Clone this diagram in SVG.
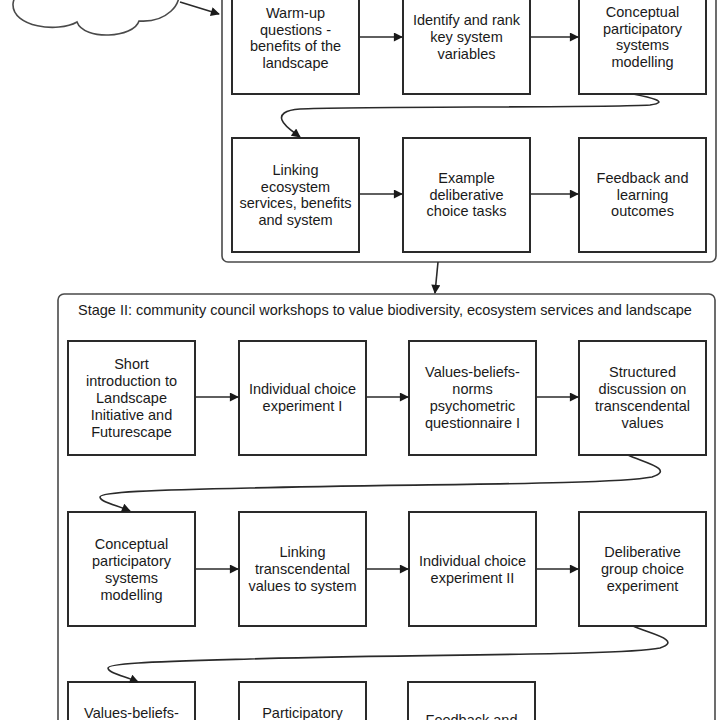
<svg xmlns="http://www.w3.org/2000/svg" width="720" height="720" viewBox="0 0 720 720">
<defs>
<marker id="ah" viewBox="0 0 10 10" refX="9" refY="5" markerWidth="11" markerHeight="9" markerUnits="userSpaceOnUse" orient="auto">
<path d="M0,0 L10,5 L0,10 z" fill="#1a1a1a"/>
</marker>
</defs>
<style>
.bg{fill:#ffffff}
.cont{fill:none;stroke:#4a4a4a;stroke-width:1.6}
.box{fill:#ffffff;stroke:#2a2a2a;stroke-width:2}
.t{font-family:"Liberation Sans",Arial,Helvetica,sans-serif;font-size:14.5px;fill:#1a1a1a;text-anchor:middle}
.title{font-family:"Liberation Sans",Arial,Helvetica,sans-serif;font-size:14.5px;fill:#1a1a1a}
.c{fill:none;stroke:#2a2a2a;stroke-width:1.6;marker-end:url(#ah)}
.cloud{fill:#ffffff;stroke:#4a4a4a;stroke-width:1.6}
</style>
<rect class="bg" x="0" y="0" width="720" height="720"/>

<g id="cloud">
<path class="cloud" d="M 178,-12 C 184,4 166,23 139,21 C 134,38 84,41 77,22 C 58,33 12,27 13,4 C 14,-8 30,-20 60,-20 L 170,-20 Z"/>
</g>

<g id="stage1">
<rect class="cont" x="222" y="-100" width="494" height="362" rx="6"/>
</g>
<g id="stage2">
<rect class="cont" x="58" y="294" width="657" height="520" rx="6"/>
<text class="title" x="78" y="315">Stage II: community council workshops to value biodiversity, ecosystem services and landscape</text>
</g>

<g id="n1"><rect class="box" x="232" y="-20" width="127" height="114"/>
<text class="t" x="295.5" y="18">Warm-up</text><text class="t" x="295.5" y="34.7">questions -</text><text class="t" x="295.5" y="51.4">benefits of the</text><text class="t" x="295.5" y="68.1">landscape</text></g>
<g id="n2"><rect class="box" x="403" y="-20" width="127" height="114"/>
<text class="t" x="466.5" y="25.3">Identify and rank</text><text class="t" x="466.5" y="42">key system</text><text class="t" x="466.5" y="58.7">variables</text></g>
<g id="n3"><rect class="box" x="579" y="-20" width="127" height="114"/>
<text class="t" x="642.5" y="17">Conceptual</text><text class="t" x="642.5" y="33.7">participatory</text><text class="t" x="642.5" y="50.4">systems</text><text class="t" x="642.5" y="67.1">modelling</text></g>
<g id="n4"><rect class="box" x="232" y="138" width="127" height="114"/>
<text class="t" x="295.5" y="175">Linking</text><text class="t" x="295.5" y="191.7">ecosystem</text><text class="t" x="295.5" y="208.4">services, benefits</text><text class="t" x="295.5" y="225.1">and system</text></g>
<g id="n5"><rect class="box" x="403" y="138" width="127" height="114"/>
<text class="t" x="466.5" y="183">Example</text><text class="t" x="466.5" y="199.7">deliberative</text><text class="t" x="466.5" y="216.4">choice tasks</text></g>
<g id="n6"><rect class="box" x="579" y="138" width="127" height="114"/>
<text class="t" x="642.5" y="183">Feedback and</text><text class="t" x="642.5" y="199.7">learning</text><text class="t" x="642.5" y="216.4">outcomes</text></g>

<g id="m1"><rect class="box" x="68" y="341" width="127" height="114"/>
<text class="t" x="131.5" y="369">Short</text><text class="t" x="131.5" y="386">introduction to</text><text class="t" x="131.5" y="403">Landscape</text><text class="t" x="131.5" y="420">Initiative and</text><text class="t" x="131.5" y="437">Futurescape</text></g>
<g id="m2"><rect class="box" x="239" y="341" width="127" height="114"/>
<text class="t" x="302.5" y="394">Individual choice</text><text class="t" x="302.5" y="411">experiment I</text></g>
<g id="m3"><rect class="box" x="409" y="341" width="127" height="114"/>
<text class="t" x="472.5" y="377">Values-beliefs-</text><text class="t" x="472.5" y="394">norms</text><text class="t" x="472.5" y="411">psychometric</text><text class="t" x="472.5" y="428">questionnaire I</text></g>
<g id="m4"><rect class="box" x="579" y="341" width="127" height="114"/>
<text class="t" x="642.5" y="377">Structured</text><text class="t" x="642.5" y="394">discussion on</text><text class="t" x="642.5" y="411">transcendental</text><text class="t" x="642.5" y="428">values</text></g>

<g id="m5"><rect class="box" x="68" y="512" width="127" height="114"/>
<text class="t" x="131.5" y="549">Conceptual</text><text class="t" x="131.5" y="566">participatory</text><text class="t" x="131.5" y="583">systems</text><text class="t" x="131.5" y="600">modelling</text></g>
<g id="m6"><rect class="box" x="239" y="512" width="127" height="114"/>
<text class="t" x="302.5" y="557">Linking</text><text class="t" x="302.5" y="574">transcendental</text><text class="t" x="302.5" y="591">values to system</text></g>
<g id="m7"><rect class="box" x="409" y="512" width="127" height="114"/>
<text class="t" x="472.5" y="566">Individual choice</text><text class="t" x="472.5" y="583">experiment II</text></g>
<g id="m8"><rect class="box" x="579" y="512" width="127" height="114"/>
<text class="t" x="642.5" y="557">Deliberative</text><text class="t" x="642.5" y="574">group choice</text><text class="t" x="642.5" y="591">experiment</text></g>

<g id="m9"><rect class="box" x="68" y="682" width="127" height="114"/>
<text class="t" x="131.5" y="718">Values-beliefs-</text></g>
<g id="m10"><rect class="box" x="239" y="682" width="127" height="114"/>
<text class="t" x="302.5" y="718">Participatory</text></g>
<g id="m11"><rect class="box" x="408" y="682" width="127" height="114"/>
<text class="t" x="471.5" y="725">Feedback and</text></g>

<g id="connectors">
<path class="c" d="M 180,2 L 219,14"/>
<path class="c" d="M 359,37 L 402,37"/>
<path class="c" d="M 530,37 L 578,37"/>
<path class="c" d="M 633,94 C 648,97 672,102 650,105 C 600,108 350,106 300,109 C 284,110 280,115 282,120 C 284,126 292,131 300,137"/>
<path class="c" d="M 359,194 L 402,194"/>
<path class="c" d="M 530,194 L 578,194"/>
<path class="c" d="M 438,262 L 435,293"/>
<path class="c" d="M 195,397 L 238,397"/>
<path class="c" d="M 366,397 L 408,397"/>
<path class="c" d="M 536,397 L 578,397"/>
<path class="c" d="M 628,455 C 642,462 676,469 652,477 C 610,485 400,484 250,488 C 150,490 100,492 100,497 C 100,502 116,505 130,511"/>
<path class="c" d="M 195,569 L 238,569"/>
<path class="c" d="M 366,569 L 408,569"/>
<path class="c" d="M 536,569 L 578,569"/>
<path class="c" d="M 633,626 C 647,633 684,640 660,648 C 620,656 400,654 250,659 C 150,662 108,663 108,668 C 108,673 124,676 138,682"/>
</g>
</svg>
